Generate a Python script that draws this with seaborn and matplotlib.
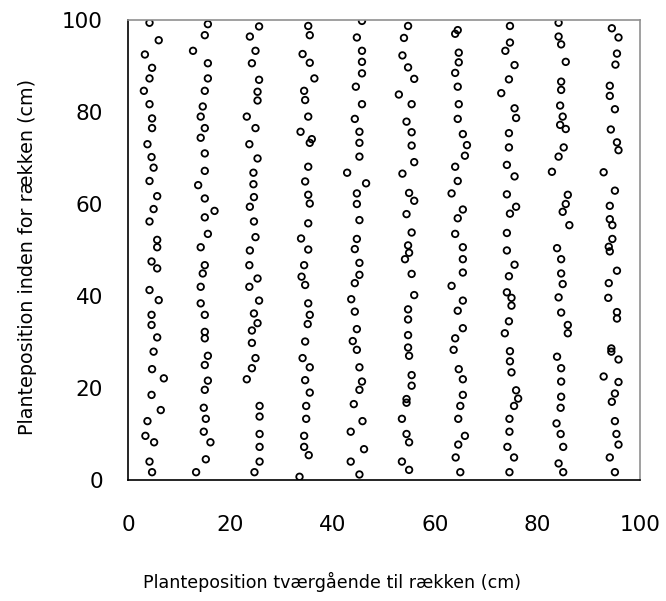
import matplotlib
matplotlib.use("Agg")
import matplotlib.pyplot as plt
import seaborn as sns
import pandas as pd

# Row 1 (around x = 5)
x_r1 = [4.2, 6.0, 3.3, 4.7, 4.2, 3.1, 4.2, 4.7, 4.7, 3.8, 4.6, 5.0, 4.2, 5.7, 5.0, 4.2, 5.7, 5.7, 4.6, 5.7,
        4.2, 6.0, 4.6, 4.6, 5.7, 5.0, 4.7, 7.0, 4.6, 6.4, 3.8, 3.4, 5.1, 4.2, 4.7]
y_r1 = [99.4, 95.6, 92.5, 89.6, 87.3, 84.6, 81.7, 78.6, 76.5, 73.0, 70.2, 67.9, 65.0, 61.7, 58.9, 56.2, 52.2, 50.6, 47.5, 46.0,
        41.3, 39.1, 35.9, 33.7, 31.0, 27.9, 24.1, 22.1, 18.5, 15.2, 12.8, 9.6, 8.2, 4.0, 1.7]
# Row 2 (around x = 15)
x_r2 = [15.6, 15.0, 12.7, 15.6, 15.6, 15.0, 14.6, 14.2, 15.0, 14.2, 15.0, 15.0, 13.7, 15.0, 16.9, 15.0, 15.6, 14.2, 15.0, 14.6,
        14.2, 14.2, 15.0, 15.0, 15.0, 15.6, 15.0, 15.6, 15.0, 14.8, 15.2, 14.8, 16.1, 15.2, 13.3]
y_r2 = [99.1, 96.7, 93.3, 90.6, 87.3, 84.6, 81.2, 79.0, 76.5, 74.4, 71.0, 67.2, 64.1, 61.2, 58.5, 57.1, 53.5, 50.6, 46.7, 44.9,
        42.0, 38.4, 35.9, 32.2, 30.8, 27.0, 25.0, 21.6, 19.6, 15.7, 13.3, 10.5, 8.2, 4.5, 1.7]
# Row 3 (around x = 25)
x_r3 = [25.6, 23.8, 24.9, 24.2, 25.6, 25.3, 25.3, 23.2, 24.9, 23.7, 25.3, 24.5, 24.5, 24.6, 23.8, 24.6, 24.9, 23.8, 23.7, 25.3,
        23.7, 25.6, 24.6, 25.3, 24.2, 24.2, 24.9, 24.2, 23.2, 25.7, 25.7, 25.7, 25.7, 25.7, 24.7]
y_r3 = [98.6, 96.4, 93.3, 90.6, 87.0, 84.4, 82.5, 79.0, 76.5, 73.0, 69.9, 66.8, 64.3, 61.5, 59.4, 56.2, 52.8, 49.9, 46.7, 43.8,
        42.0, 39.0, 36.2, 34.1, 32.5, 29.8, 26.5, 24.3, 21.9, 16.1, 13.8, 10.0, 7.2, 4.0, 1.7]
# Row 4 (around x = 35)
x_r4 = [35.2, 35.5, 34.1, 35.5, 36.4, 34.4, 34.6, 35.2, 33.7, 35.9, 35.5, 35.2, 34.6, 35.2, 35.5, 35.2, 33.8, 35.2, 34.4, 33.9,
        34.6, 35.2, 35.5, 35.1, 34.6, 34.1, 35.5, 34.6, 35.5, 34.8, 34.8, 34.4, 34.4, 35.3, 33.5]
y_r4 = [98.7, 96.7, 92.6, 90.7, 87.3, 84.6, 82.6, 79.0, 75.7, 74.1, 73.3, 68.1, 64.9, 62.0, 60.1, 55.8, 52.5, 50.1, 46.7, 44.2,
        42.4, 38.4, 35.9, 33.9, 30.1, 26.5, 24.5, 21.7, 19.0, 16.1, 13.3, 9.6, 7.2, 5.4, 0.7]
# Row 5 (around x = 45)
x_r5 = [45.7, 44.7, 45.7, 45.7, 45.7, 44.5, 45.7, 44.3, 45.2, 45.2, 45.2, 42.8, 46.5, 44.7, 44.7, 45.2, 44.7, 44.3, 45.2, 45.2,
        44.3, 43.6, 44.3, 44.7, 43.9, 44.7, 45.2, 45.7, 45.2, 44.1, 45.8, 43.5, 46.1, 43.5, 45.2]
y_r5 = [99.8, 96.2, 93.3, 90.9, 88.4, 85.5, 81.7, 78.5, 75.7, 73.3, 70.3, 66.8, 64.5, 62.3, 60.0, 56.5, 52.4, 50.2, 47.2, 44.6,
        42.8, 39.3, 36.6, 32.8, 30.2, 28.3, 24.5, 21.4, 19.6, 16.5, 12.8, 10.5, 6.7, 4.0, 1.2]
# Row 6 (around x = 55)
x_r6 = [54.7, 53.9, 53.6, 54.7, 55.9, 52.9, 55.4, 54.4, 55.4, 55.4, 55.9, 53.6, 54.9, 55.9, 54.4, 55.4, 54.7, 54.9, 54.1, 55.4,
        55.9, 54.7, 54.7, 54.7, 54.7, 54.9, 55.4, 55.4, 54.4, 54.4, 53.5, 54.4, 54.9, 53.5, 54.9]
y_r6 = [98.7, 96.1, 92.3, 89.7, 87.2, 83.8, 81.7, 77.9, 75.6, 72.7, 69.1, 66.6, 62.4, 60.7, 57.8, 53.8, 51.0, 49.4, 48.0, 44.8,
        40.2, 37.1, 34.9, 31.5, 28.8, 27.0, 22.8, 20.5, 17.6, 16.8, 13.3, 10.0, 8.2, 4.0, 2.2]
# Row 7 (around x = 65)
x_r7 = [64.4, 63.9, 64.6, 64.6, 63.9, 64.4, 64.6, 64.4, 65.4, 66.2, 65.8, 63.9, 64.4, 63.2, 65.4, 64.4, 63.9, 65.4, 65.4, 65.4,
        63.2, 65.4, 64.4, 65.4, 63.9, 63.6, 64.6, 65.4, 65.4, 64.9, 64.5, 65.8, 64.5, 64.0, 64.9]
y_r7 = [97.8, 97.0, 92.9, 90.8, 88.5, 85.5, 81.7, 78.5, 75.2, 72.8, 70.5, 68.1, 65.0, 62.3, 58.8, 56.9, 53.5, 50.6, 48.0, 45.1,
        42.2, 39.0, 36.8, 33.0, 30.8, 28.3, 24.1, 21.9, 18.5, 16.1, 13.3, 9.6, 7.7, 4.9, 1.7]
# Row 8 (around x = 75)
x_r8 = [74.6, 74.6, 73.7, 75.5, 74.4, 72.9, 75.5, 75.8, 74.4, 74.4, 74.0, 75.5, 74.0, 75.8, 74.6, 74.0, 74.0, 75.5, 74.4, 74.0,
        74.9, 74.9, 74.4, 73.6, 74.6, 74.6, 74.9, 75.8, 76.2, 75.4, 74.5, 74.5, 74.1, 75.4, 74.5]
y_r8 = [98.7, 95.1, 93.3, 90.2, 87.1, 84.1, 80.8, 78.7, 75.4, 72.3, 68.5, 66.0, 62.1, 59.4, 57.9, 53.7, 49.9, 46.8, 44.3, 40.8,
        39.6, 37.9, 34.5, 31.9, 28.0, 25.8, 23.4, 19.5, 17.7, 16.1, 13.3, 10.5, 7.2, 4.9, 1.7]
# Row 9 (around x = 85)
x_r9 = [84.1, 84.1, 84.6, 85.5, 84.6, 84.6, 84.4, 84.9, 84.4, 85.5, 85.1, 84.1, 82.8, 85.9, 85.5, 84.9, 86.2, 83.8, 84.6, 84.6,
        84.9, 84.1, 84.6, 85.9, 85.9, 83.8, 84.6, 84.6, 84.6, 84.5, 83.7, 84.5, 85.0, 84.1, 85.0]
y_r9 = [99.4, 96.4, 94.7, 90.9, 86.6, 84.8, 81.4, 79.0, 77.2, 76.3, 72.3, 70.3, 67.0, 62.0, 60.0, 58.3, 55.4, 50.4, 48.0, 44.9,
        42.6, 39.7, 36.4, 33.7, 31.9, 26.8, 24.3, 21.4, 18.1, 15.7, 12.3, 10.0, 7.2, 3.6, 1.7]
# Row 10 (around x = 95)
x_r10 = [94.5, 95.8, 95.5, 95.2, 94.1, 94.1, 95.1, 94.3, 95.5, 95.8, 92.9, 95.1, 94.1, 94.1, 94.6, 94.6, 93.9, 94.1, 95.5, 93.9,
         93.8, 95.5, 95.5, 94.4, 94.4, 95.8, 92.9, 95.8, 95.1, 94.5, 95.1, 95.4, 95.8, 94.1, 95.1]
y_r10 = [98.2, 96.2, 92.7, 90.3, 85.7, 83.5, 80.6, 76.2, 73.4, 71.7, 66.9, 62.9, 59.6, 56.7, 55.4, 52.4, 50.7, 49.7, 45.5, 42.8,
         39.6, 36.5, 35.1, 28.6, 27.9, 26.2, 22.5, 21.3, 18.8, 17.0, 12.8, 10.0, 7.7, 4.9, 1.7]

x_ticks = [0, 20, 40, 60, 80, 100]
y_ticks = [0, 20, 40, 60, 80, 100]
x_label = "Planteposition tværgående til rækken (cm)"
y_label = "Planteposition inden for rækken (cm)"

xs = [x_r1, x_r2, x_r3, x_r4, x_r5, x_r6, x_r7, x_r8, x_r9, x_r10]
ys = [y_r1, y_r2, y_r3, y_r4, y_r5, y_r6, y_r7, y_r8, y_r9, y_r10]
frames = []
for i, (xx, yy) in enumerate(zip(xs, ys)):
    frames.append(pd.DataFrame({"x": xx, "y": yy, "row": i + 1}))
df = pd.concat(frames, ignore_index=True)

sns.set_theme(style="white")
plt.rcParams["font.family"] = ["DejaVu Sans"]

fig = plt.figure(figsize=(6.66, 6.01), dpi=100)
ax = fig.add_axes([128 / 666, 1 - 480 / 601, 512 / 666, 460 / 601])

sns.scatterplot(data=df, x="x", y="y", ax=ax, marker="o", s=22,
                facecolor="none", edgecolor="black", linewidth=1.3, legend=False)

ax.set_xlim(0, 100)
ax.set_ylim(0, 100)
ax.set_xticks(x_ticks)
ax.set_yticks(y_ticks)
ax.tick_params(axis="both", direction="out", length=5, width=1, color="black",
               labelsize=15.5, labelcolor="black")
ax.tick_params(axis="x", pad=20)
ax.tick_params(axis="y", pad=13)
ax.set_xlabel(x_label, fontsize=12.6, color="black")
ax.set_ylabel(y_label, fontsize=13.8, color="black")
ax.xaxis.set_label_coords((332 - 128) / 512, -(582 - 480) / 460, transform=ax.transAxes)
ax.yaxis.set_label_coords(-(128 - 28) / 512, (480 - 257) / 460, transform=ax.transAxes)
ax.xaxis.label.set_va("center")
ax.yaxis.label.set_va("center")

for side in ["left", "bottom"]:
    ax.spines[side].set_color("black")
    ax.spines[side].set_linewidth(1.2)
for side in ["top", "right"]:
    ax.spines[side].set_color("#909090")
    ax.spines[side].set_linewidth(1.2)

fig.savefig("out.png", dpi=100)
